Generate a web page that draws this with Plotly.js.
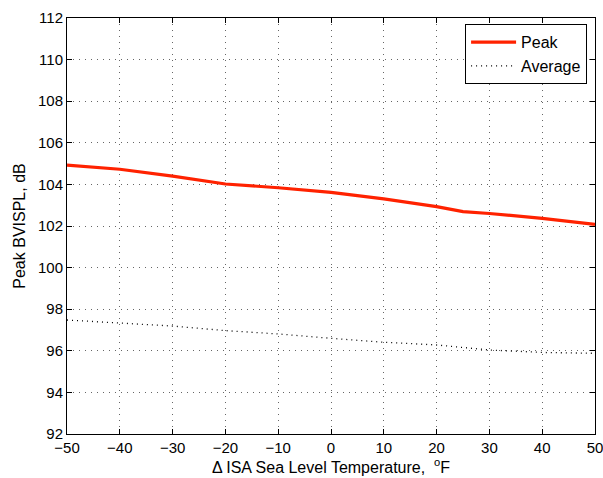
<!DOCTYPE html>
<html>
<head>
<meta charset="utf-8">
<script src="https://cdn.plot.ly/plotly-3.0.1.min.js"></script>
<style>
  html, body { margin: 0; padding: 0; background: #fff; }
  #chart { width: 603px; height: 478px; }
</style>
</head>
<body>
<div id="chart"></div>
<script>
// Temperature offsets from ISA sea level (°F)
const deltaT = [-50, -40, -30, -20, -10, 0, 10, 20, 25, 30, 40, 50];
// Peak BVISPL (dB)
const peakLevel = [104.93, 104.73, 104.40, 104.02, 103.84, 103.62, 103.30, 102.93, 102.69, 102.60, 102.37, 102.08];
// Average BVISPL (dB)
const avgLevel = [97.48, 97.35, 97.19, 96.97, 96.81, 96.60, 96.41, 96.28, 96.16, 96.04, 95.92, 95.88];

const xTicks = [-50, -40, -30, -20, -10, 0, 10, 20, 30, 40, 50];
const yTicks = [92, 94, 96, 98, 100, 102, 104, 106, 108, 110, 112];

const fontFamily = 'Liberation Sans, Arial, Helvetica, sans-serif';

const traces = [
  {
    x: deltaT, y: peakLevel, name: 'Peak', mode: 'lines',
    line: { color: '#ff2200', width: 3.2 }
  },
  {
    x: deltaT, y: avgLevel, name: 'Average', mode: 'lines',
    line: { color: '#000000', width: 1.3, dash: '1px,4px' }
  }
];

const axisCommon = {
  showline: true, linecolor: '#000', linewidth: 1, mirror: 'ticks',
  ticks: 'inside', ticklen: 5, tickcolor: '#000',
  showgrid: true, gridcolor: '#666', griddash: '1px,5px', gridwidth: 1,
  zeroline: false, ticklabeloverflow: 'allow',
  tickfont: { family: fontFamily, size: 15, color: '#000' }
};

const layout = {
  width: 603, height: 478,
  margin: { l: 67, r: 8, t: 18, b: 44 },
  paper_bgcolor: '#fff', plot_bgcolor: '#fff',
  showlegend: true,
  legend: {
    x: 0.985, xanchor: 'right', y: 0.985, yanchor: 'top',
    bgcolor: '#fff', bordercolor: '#000', borderwidth: 1,
    font: { family: fontFamily, size: 16, color: '#000' },
    itemwidth: 45, tracegroupgap: 0
  },
  xaxis: Object.assign({}, axisCommon, {
    range: [-50, 50], tickvals: xTicks, ticktext: xTicks.map(v => v < 0 ? '\u2212' + Math.abs(v) : String(v)),
    title: { text: '\u0394 ISA Sea Level Temperature,  <sup>o</sup>F', font: { family: fontFamily, size: 16, color: '#000' }, standoff: 6 }
  }),
  yaxis: Object.assign({}, axisCommon, {
    range: [92, 112], tickvals: yTicks,
    title: { text: 'Peak BVISPL, dB', font: { family: fontFamily, size: 16, color: '#000' }, standoff: 8 }
  })
};

Plotly.newPlot('chart', traces, layout, { displayModeBar: false, staticPlot: true });
</script>
</body>
</html>
